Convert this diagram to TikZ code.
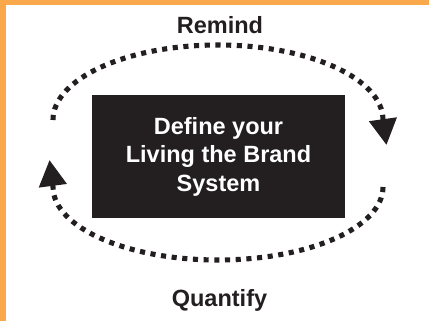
\documentclass[tikz,border=0pt]{standalone}
\usepackage{fontspec}
\setmainfont{Liberation Sans}
\usetikzlibrary{arrows.meta}
\definecolor{frameorange}{RGB}{250,168,76}
\definecolor{boxdark}{RGB}{35,31,32}
\begin{document}
\begin{tikzpicture}[x=1pt,y=1pt,
  dotline/.style={draw=boxdark,line width=5.1pt,dash pattern=on 5.1pt off 5.6pt},
  tip/.style={-{Triangle[width=27pt,length=26pt]}},
  label/.style={font=\fontsize{23.5}{28}\selectfont\bfseries,text=boxdark,anchor=base,inner sep=0pt},
  sysbox/.style={fill=boxdark,text=white,minimum width=253pt,minimum height=123pt,
    align=center,inner sep=0pt,font=\fontsize{23.5}{28.5}\selectfont\bfseries}]
  \useasboundingbox (0,0) rectangle (429,321);
  \fill[white] (0,0) rectangle (429,321);
  % orange frame strips
  \fill[frameorange] (0,316) rectangle (429,321);
  \fill[frameorange] (0,0) rectangle (6,321);

  % central box
  \node[sysbox] (sys) at (218.5,164.5) {Define your\\Living the Brand\\System};

  % labels
  \node[label] (remind) at (220,287) {Remind};
  \node[label] (quant) at (219.5,14) {Quantify};

  % ends of the two cycle arcs
  \coordinate (topL) at (53,201);
  \coordinate (topTip) at (386.5,176);
  \coordinate (botR) at (383,134);
  \coordinate (botTip) at (49.5,161);

  % upper arc, left to right
  \draw[dotline,tip] (topL) arc[start angle=180,end angle=0,x radius=165,y radius=75] -- (topTip);
  % lower arc, right to left
  \draw[dotline,tip] (botR) arc[start angle=0,end angle=-180,x radius=165,y radius=73] -- (botTip);
\end{tikzpicture}
\end{document}
